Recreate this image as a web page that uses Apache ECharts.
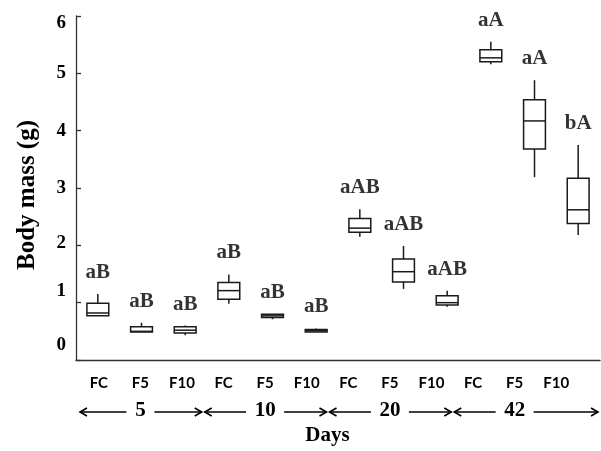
<!DOCTYPE html>
<html>
<head>
<meta charset="utf-8">
<script src="https://cdn.jsdelivr.net/npm/echarts@6/dist/echarts.min.js"></script>
<style>html,body{margin:0;padding:0;background:#fff}#c{width:601px;height:451px}</style>
</head>
<body>
<div id="c"></div>
<script>
// ---- data ----
const categories = ['FC','F5','F10','FC','F5','F10','FC','F5','F10','FC','F5','F10'];
const days = ['5','10','20','42'];
const mins    = [0.77, 0.49, 0.43, 0.98, 0.71, 0.49, 2.15, 1.24, 0.93, 5.16, 3.19, 2.18];
const q1s     = [0.77, 0.49, 0.47, 1.06, 0.74, 0.49, 2.23, 1.36, 0.96, 5.20, 3.68, 2.38];
const medians = [0.82, 0.50, 0.52, 1.21, 0.77, 0.51, 2.30, 1.54, 1.00, 5.27, 4.17, 2.62];
const q3s     = [0.99, 0.58, 0.58, 1.35, 0.80, 0.53, 2.47, 1.76, 1.12, 5.41, 4.54, 3.17];
const maxs    = [1.15, 0.65, 0.60, 1.49, 0.80, 0.55, 2.63, 1.99, 1.21, 5.55, 4.88, 3.75];
const letters = ['aB','aB','aB','aB','aB','aB','aAB','aAB','aAB','aA','aA','bA'];
const yTicks  = [0, 1, 2, 3, 4, 5, 6];

const SERIF = '"Liberation Serif","Times New Roman",serif';
const INK = '#000';
const AX = '#333';

const boxData = categories.map((c, i) => [i, mins[i], q1s[i], medians[i], q3s[i], maxs[i]]);
const labelData = categories.map((c, i) => [i, maxs[i]]);

const labelShift = {0: [0,0,30,0], 1: [0,0,24,0], 2: [0,0,4,0], 3: [0,0,0,0], 4: [0,0,0,0], 5: [0,0,0,0], 6: [14,0,0,0]};
const rich = {};
yTicks.forEach(v => {
  rich['s' + v] = {fontFamily: SERIF, fontWeight: 'bold', fontSize: 19, color: INK, padding: labelShift[v]};
});

const chart = echarts.init(document.getElementById('c'), null, {renderer: 'canvas'});
const lineStyle = {stroke: '#1a1a1a', lineWidth: 1.5, fill: null};

chart.setOption({
  animation: false,
  backgroundColor: '#fff',
  grid: [
    {left: 76, right: 1, top: 16, bottom: 91},
    {left: 78, right: 24, top: 16, bottom: 91}
  ],
  xAxis: [
    {
      type: 'category', gridIndex: 0, data: categories, position: 'bottom',
      axisLine: {lineStyle: {color: AX, width: 1.3}},
      axisTick: {inside: true, length: 7, lineStyle: {color: AX, width: 1.3}},
      axisLabel: {show: false},
      splitLine: {show: false}
    },
    {
      type: 'category', gridIndex: 1, data: categories, position: 'bottom',
      axisLine: {show: false}, axisTick: {show: false},
      axisLabel: {margin: 17, fontFamily: 'Lato, "Open Sans", sans-serif', fontWeight: 'bold', fontSize: 15, color: INK, interval: 0},
      name: 'Days', nameLocation: 'middle', nameGap: 66,
      nameTextStyle: {fontFamily: SERIF, fontWeight: 'bold', fontSize: 21, color: INK}
    },
    {
      type: 'category', gridIndex: 1, data: days, position: 'bottom',
      axisLine: {show: false}, axisTick: {show: false},
      axisLabel: {margin: 41, fontFamily: SERIF, fontWeight: 'bold', fontSize: 21, color: INK, interval: 0}
    }
  ],
  yAxis: [
    {
      type: 'value', gridIndex: 0, min: 0, max: 6, interval: 1,
      axisLine: {show: true, lineStyle: {color: AX, width: 1.3}},
      axisTick: {show: true, inside: true, length: 5, lineStyle: {color: AX, width: 1.3}},
      splitLine: {show: false},
      axisLabel: {margin: 10, formatter: v => '{s' + v + '|' + v + '}', rich: rich},
      name: 'Body mass (g)', nameLocation: 'middle', nameGap: 36,
      nameTextStyle: {fontFamily: SERIF, fontWeight: 'bold', fontSize: 25, color: INK, padding: [0, 14, 0, 0]}
    },
    {type: 'value', gridIndex: 1, min: 0, max: 1, show: false}
  ],
  series: [
    {
      type: 'custom', xAxisIndex: 0, yAxisIndex: 0,
      data: boxData,
      encode: {x: 0, y: [1, 2, 3, 4, 5]},
      renderItem: function (params, api) {
        const x = api.value(0);
        const pMin = api.coord([x, api.value(1)]);
        const pQ1 = api.coord([x, api.value(2)]);
        const pMed = api.coord([x, api.value(3)]);
        const pQ3 = api.coord([x, api.value(4)]);
        const pMax = api.coord([x, api.value(5)]);
        const w = api.size([1, 0])[0] * 0.5;
        const cx = pMed[0];
        const children = [];
        if (pMax[1] < pQ3[1] - 0.5) children.push({type: 'line', shape: {x1: cx, y1: pMax[1], x2: cx, y2: pQ3[1]}, style: lineStyle});
        if (pMin[1] > pQ1[1] + 0.5) children.push({type: 'line', shape: {x1: cx, y1: pQ1[1], x2: cx, y2: pMin[1]}, style: lineStyle});
        children.push({type: 'rect', shape: {x: cx - w / 2, y: pQ3[1], width: w, height: pQ1[1] - pQ3[1]}, style: {fill: '#fff', stroke: '#1a1a1a', lineWidth: 1.5}});
        children.push({type: 'line', shape: {x1: cx - w / 2, y1: pMed[1], x2: cx + w / 2, y2: pMed[1]}, style: lineStyle});
        return {type: 'group', children: children};
      },
      z: 3
    },
    {
      type: 'scatter', xAxisIndex: 0, yAxisIndex: 0,
      data: labelData, symbolSize: 0, silent: true,
      label: {
        show: true, position: 'top', distance: 11,
        formatter: p => letters[p.dataIndex],
        fontFamily: SERIF, fontWeight: 'bold', fontSize: 21, color: INK
      },
      z: 4
    },
    {type: 'line', xAxisIndex: 1, yAxisIndex: 1, data: [], silent: true}
  ]
});

// arrows in the "days" row, positioned from the label axis
(function drawArrows() {
  const c0 = chart.convertToPixel({xAxisIndex: 1}, 0);
  const c1 = chart.convertToPixel({xAxisIndex: 1}, 1);
  const band = c1 - c0;
  const axisY = chart.convertToPixel({yAxisIndex: 0}, 0);
  const y = axisY + 52;
  const els = [];
  const st = {stroke: '#000', lineWidth: 1.6, fill: null};
  days.forEach((d, g) => {
    const left = chart.convertToPixel({xAxisIndex: 1}, 3 * g) - band / 2 + 2;
    let right = chart.convertToPixel({xAxisIndex: 1}, 3 * g + 2) + band / 2 - 1;
    if (g === days.length - 1) right = 598;
    const mid = chart.convertToPixel({xAxisIndex: 2}, g);
    const half = d.length * 5 + 9;
    els.push({type: 'line', shape: {x1: left, y1: y, x2: mid - half, y2: y}, style: st});
    els.push({type: 'polyline', shape: {points: [[left + 7, y - 4], [left, y], [left + 7, y + 4]]}, style: st});
    els.push({type: 'line', shape: {x1: mid + half, y1: y, x2: right, y2: y}, style: st});
    els.push({type: 'polyline', shape: {points: [[right - 7, y - 4], [right, y], [right - 7, y + 4]]}, style: st});
  });
  chart.setOption({graphic: els});
})();
</script>
</body>
</html>
